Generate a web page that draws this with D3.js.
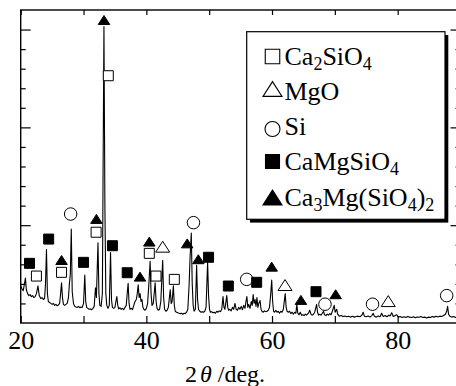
<!DOCTYPE html>
<html>
<head>
<meta charset="utf-8">
<script src="https://cdn.jsdelivr.net/npm/d3@7"></script>
<style>
  html, body { margin: 0; padding: 0; background: #fff; overflow: hidden; }
  svg { display: block; }
  svg text { font-family: "Liberation Serif", "Times New Roman", serif; }
</style>
</head>
<body>
<div id="chart"></div>
<script>
// XRD pattern: [2theta (deg), intensity (counts)]
const pattern = [
  [20.0, 190], [20.2, 175], [20.4, 165], [20.6, 200], [20.75, 230], [20.9, 170], [21.1, 150], [21.3, 140],
  [21.5, 145], [21.7, 135], [21.9, 140], [22.1, 130], [22.3, 135], [22.5, 150], [22.75, 190], [22.95, 140],
  [23.2, 125], [23.4, 130], [23.6, 120], [23.8, 125], [23.95, 200], [24.1, 376], [24.25, 150], [24.4, 110],
  [24.6, 105], [24.8, 100], [25.0, 95], [25.2, 100], [25.4, 90], [25.6, 95], [25.8, 88], [26.0, 92],
  [26.2, 100], [26.35, 150], [26.5, 205], [26.65, 130], [26.8, 95], [27.0, 90], [27.2, 95], [27.4, 100],
  [27.6, 130], [27.75, 200], [27.9, 250], [28.05, 480], [28.2, 160], [28.4, 100], [28.6, 85], [28.8, 82],
  [29.0, 80], [29.2, 85], [29.4, 78], [29.6, 82], [29.8, 80], [30.0, 100], [30.2, 245], [30.35, 110],
  [30.5, 80], [30.7, 75], [30.9, 70], [31.1, 72], [31.3, 68], [31.5, 75], [31.7, 85], [31.9, 180],
  [32.05, 130], [32.3, 410], [32.45, 150], [32.6, 90], [32.8, 85], [33.0, 150], [33.1, 700], [33.25, 1515],
  [33.4, 600], [33.55, 150], [33.7, 90], [33.9, 75], [34.1, 90], [34.3, 360], [34.45, 120], [34.6, 80],
  [34.8, 75], [35.0, 80], [35.15, 110], [35.3, 135], [35.45, 90], [35.6, 72], [35.8, 78], [36.0, 70],
  [36.2, 75], [36.4, 68], [36.6, 80], [36.8, 90], [36.95, 150], [37.1, 203], [37.25, 100], [37.4, 70],
  [37.6, 75], [37.8, 68], [38.0, 90], [38.2, 110], [38.4, 120], [38.55, 150], [38.7, 195], [38.85, 130],
  [39.0, 150], [39.15, 110], [39.3, 120], [39.45, 80], [39.6, 70], [39.8, 65], [40.0, 75], [40.2, 100],
  [40.4, 200], [40.6, 315], [40.75, 150], [40.9, 90], [41.1, 100], [41.4, 205], [41.55, 110], [41.7, 75],
  [41.9, 65], [42.1, 70], [42.3, 110], [42.6, 320], [42.75, 130], [42.9, 70], [43.1, 60], [43.3, 65],
  [43.5, 80], [43.8, 170], [43.95, 100], [44.1, 110], [44.3, 190], [44.45, 90], [44.6, 60], [44.8, 55],
  [45.0, 52], [45.2, 50], [45.4, 48], [45.6, 50], [45.8, 45], [46.0, 50], [46.2, 48], [46.4, 55],
  [46.6, 70], [46.8, 190], [46.95, 330], [47.15, 460], [47.3, 200], [47.45, 90], [47.6, 60], [47.8, 70],
  [48.0, 295], [48.15, 120], [48.3, 70], [48.5, 60], [48.7, 55], [48.9, 58], [49.1, 55], [49.3, 60],
  [49.5, 80], [49.75, 310], [49.9, 140], [50.05, 70], [50.2, 55], [50.4, 58], [50.6, 52], [50.8, 55],
  [51.0, 50], [51.2, 60], [51.4, 55], [51.6, 62], [51.8, 58], [52.0, 70], [52.2, 135], [52.35, 80],
  [52.5, 70], [52.8, 140], [52.95, 80], [53.1, 65], [53.3, 70], [53.5, 62], [53.7, 80], [53.9, 70],
  [54.1, 100], [54.3, 70], [54.5, 65], [54.7, 80], [54.9, 70], [55.1, 85], [55.3, 68], [55.5, 90],
  [55.7, 75], [55.85, 110], [56.0, 135], [56.15, 80], [56.3, 95], [56.5, 75], [56.7, 110], [56.85, 90],
  [57.0, 145], [57.15, 100], [57.3, 120], [57.45, 85], [57.6, 130], [57.75, 80], [57.9, 100], [58.1, 115],
  [58.25, 70], [58.4, 60], [58.6, 55], [58.8, 62], [59.0, 58], [59.2, 60], [59.4, 65], [59.6, 80],
  [59.8, 150], [59.95, 220], [60.1, 110], [60.25, 60], [60.4, 55], [60.6, 65], [60.8, 55], [61.0, 60],
  [61.2, 50], [61.4, 60], [61.6, 55], [61.8, 70], [62.1, 150], [62.25, 80], [62.4, 60], [62.6, 55],
  [62.8, 60], [63.0, 48], [63.2, 55], [63.4, 45], [63.6, 55], [63.8, 50], [63.95, 95], [64.1, 50],
  [64.3, 42], [64.5, 55], [64.7, 40], [64.9, 42], [65.1, 38], [65.3, 45], [65.5, 40], [65.8, 50],
  [66.0, 65], [66.2, 45], [66.4, 40], [66.6, 45], [66.8, 55], [67.1, 95], [67.25, 55], [67.4, 40],
  [67.6, 45], [67.8, 40], [68.0, 50], [68.2, 60], [68.35, 42], [68.6, 38], [68.8, 45], [69.0, 40],
  [69.2, 48], [69.4, 42], [69.6, 60], [69.9, 90], [70.05, 55], [70.3, 70], [70.45, 45], [70.7, 35],
  [71.0, 38], [71.3, 33], [71.6, 36], [71.9, 32], [72.2, 35], [72.5, 30], [72.8, 34], [73.1, 30],
  [73.4, 33], [73.7, 35], [74.0, 32], [74.3, 40], [74.5, 55], [74.7, 35], [75.0, 32], [75.3, 36],
  [75.6, 30], [75.9, 38], [76.1, 50], [76.3, 34], [76.6, 30], [76.9, 36], [77.2, 32], [77.45, 50],
  [77.7, 33], [78.0, 38], [78.3, 32], [78.6, 40], [78.8, 36], [79.05, 52], [79.3, 33], [79.6, 38],
  [79.85, 42], [80.1, 30], [80.4, 33], [80.7, 28], [81.0, 32], [81.3, 28], [81.6, 33], [81.9, 30],
  [82.2, 28], [82.5, 32], [82.8, 27], [83.1, 31], [83.4, 29], [83.7, 33], [84.0, 28], [84.3, 30],
  [84.6, 26], [84.9, 30], [85.2, 28], [85.5, 33], [85.8, 30], [86.1, 34], [86.4, 31], [86.7, 35],
  [87.0, 33], [87.3, 38], [87.6, 45], [87.8, 60], [87.95, 85], [88.1, 45], [88.3, 35], [88.6, 30],
  [88.9, 33], [89.2, 28], [89.5, 32], [89.8, 29], [90.0, 30]
];

// phase markers: [2theta, height the marker sits at]
const ca2sio4Marks = [[22.5, 240], [26.5, 259], [32.0, 464], [33.94, 1264], [40.47, 356], [41.53, 240], [44.45, 223]];
const mgoMarks = [[42.6, 390], [62.07, 194], [78.5, 112]];
const siMarks = [[27.95, 557], [47.5, 513], [55.97, 223], [68.43, 96], [76.0, 96], [87.8, 140]];
const camgsio4Marks = [[21.4, 305], [24.45, 429], [30.0, 310], [34.6, 395], [36.95, 257], [49.9, 336], [53.05, 189], [57.56, 208], [67.0, 160]];
const ca3mgMarks = [[26.5, 322], [32.05, 532], [33.26, 1549], [38.99, 237], [40.47, 416], [46.5, 407], [48.27, 326], [59.95, 288], [64.6, 118], [70.13, 147]];

const phaseNames = ['Ca2SiO4', 'MgO', 'Si', 'CaMgSiO4', 'Ca3Mg(SiO4)2'];

const xTicks = [20, 30, 40, 50, 60, 70, 80, 90];
const xTickLabels = ['20', '', '40', '', '60', '', '80', ''];
const yMinorTicks = [100, 200, 300, 400, 600, 700, 800, 900, 1100, 1200, 1300, 1400];
const yMajorTicks = [500, 1000, 1500];

const W = 456, H = 386;
const SERIF = '"Liberation Serif", "Times New Roman", serif';

const svg = d3.select('#chart').append('svg')
  .attr('width', W)
  .attr('height', H);

const x = d3.scaleLinear().domain([20, 90]).range([20.7, 460.5]);
const y = d3.scaleLinear().domain([0, 1600]).range([323, 10]);

// symbol types, "size" is the width in px
const square = { draw(ctx, s) { const h = s / 2; ctx.rect(-h, -h, s, s); } };
const circle = { draw(ctx, s) { const r = s / 2; ctx.moveTo(r, 0); ctx.arc(0, 0, r, 0, 2 * Math.PI); } };
const triangle = { draw(ctx, s) { const h = s * 0.78; ctx.moveTo(0, -h / 2); ctx.lineTo(s / 2, h / 2); ctx.lineTo(-s / 2, h / 2); ctx.closePath(); } };

const phases = [
  { name: phaseNames[0], marks: ca2sio4Marks, type: square, size: 10, legendSize: 14.5, fill: '#fff' },
  { name: phaseNames[1], marks: mgoMarks, type: triangle, size: 14, legendSize: 19, fill: '#fff' },
  { name: phaseNames[2], marks: siMarks, type: circle, size: 12.5, legendSize: 15, fill: '#fff' },
  { name: phaseNames[3], marks: camgsio4Marks, type: square, size: 10, legendSize: 14, fill: '#000' },
  { name: phaseNames[4], marks: ca3mgMarks, type: triangle, size: 11.5, legendSize: 19, fill: '#000' }
];

// axes (ticks point inward, no y labels)
const axisG = svg.append('g').attr('class', 'axes');

const bottom = axisG.append('g')
  .attr('transform', 'translate(0,' + y(0) + ')')
  .call(d3.axisBottom(x).tickValues(xTicks).tickSizeInner(-7).tickSizeOuter(0).tickPadding(7.5)
    .tickFormat((d, i) => xTickLabels[i]));
bottom.selectAll('text')
  .style('font-family', SERIF)
  .style('font-size', '26px')
  .attr('fill', '#000');

axisG.append('g')
  .attr('transform', 'translate(0,' + y(1600) + ')')
  .call(d3.axisTop(x).tickValues(xTicks).tickSizeInner(-5).tickSizeOuter(0).tickFormat(''));

axisG.append('g')
  .attr('transform', 'translate(' + x(20) + ',0)')
  .call(d3.axisLeft(y).tickValues(yMinorTicks).tickSizeInner(-5).tickSizeOuter(0).tickFormat(''));
axisG.append('g')
  .attr('transform', 'translate(' + x(20) + ',0)')
  .call(d3.axisLeft(y).tickValues(yMajorTicks).tickSizeInner(-10).tickSizeOuter(0).tickFormat(''));
axisG.append('g')
  .attr('transform', 'translate(' + x(90) + ',0)')
  .call(d3.axisRight(y).tickValues(yMinorTicks).tickSizeInner(-5).tickSizeOuter(0).tickFormat(''));
axisG.append('g')
  .attr('transform', 'translate(' + x(90) + ',0)')
  .call(d3.axisRight(y).tickValues(yMajorTicks).tickSizeInner(-10).tickSizeOuter(0).tickFormat(''));

axisG.selectAll('.domain').remove();
axisG.selectAll('.tick line').attr('stroke', '#000').attr('stroke-width', 1.2);

// frame
svg.append('rect')
  .attr('x', x(20)).attr('y', y(1600))
  .attr('width', x(90) - x(20)).attr('height', y(0) - y(1600))
  .attr('fill', 'none').attr('stroke', '#000').attr('stroke-width', 1.4);

// pattern
const line = d3.line().x(d => x(d[0])).y(d => y(d[1]));
svg.append('path')
  .datum(pattern)
  .attr('d', line)
  .attr('fill', 'none')
  .attr('stroke', '#000')
  .attr('stroke-width', 1.1)
  .attr('stroke-linejoin', 'round');

// phase markers
phases.forEach(p => {
  svg.append('g').selectAll('path').data(p.marks)
    .enter().append('path')
    .attr('d', d3.symbol().type(p.type).size(p.size))
    .attr('transform', d => 'translate(' + x(d[0]) + ',' + y(d[1]) + ')')
    .attr('fill', p.fill)
    .attr('stroke', '#000')
    .attr('stroke-width', 1);
});

// legend box with drop shadow
const lg = { x: 246.7, y: 31.7, w: 198.3, h: 187.6 };
svg.append('rect')
  .attr('x', lg.x + 3.3).attr('y', lg.y + 3.3)
  .attr('width', lg.w).attr('height', lg.h)
  .attr('fill', '#000');
svg.append('rect')
  .attr('x', lg.x).attr('y', lg.y)
  .attr('width', lg.w).attr('height', lg.h)
  .attr('fill', '#fff').attr('stroke', '#000').attr('stroke-width', 1.2);

const rowBase = [65, 100, 135, 170, 206];
const symCy = [56.5, 89, 129, 161.5, 197.5];
phases.forEach((p, i) => {
  svg.append('path')
    .attr('d', d3.symbol().type(p.type).size(p.legendSize)())
    .attr('transform', 'translate(272.5,' + symCy[i] + ')')
    .attr('fill', p.fill)
    .attr('stroke', '#000')
    .attr('stroke-width', 1.1);

  const t = svg.append('text')
    .attr('x', 284.5)
    .attr('y', rowBase[i])
    .style('font-size', '26px')
    .attr('fill', '#000');
  // digits in a formula are subscripts
  const parts = p.name.split(/(\d+)/).filter(s => s.length);
  let shifted = false;
  parts.forEach(s => {
    if (/^\d+$/.test(s)) {
      t.append('tspan').style('font-size', '18px').attr('dy', 5).text(s);
      shifted = true;
    } else {
      t.append('tspan').attr('dy', shifted ? -5 : 0).text(s);
      shifted = false;
    }
  });
});

// x axis title
const title = svg.append('text')
  .attr('x', 185)
  .attr('y', 381.5)
  .style('font-size', '24px')
  .attr('fill', '#000');
title.append('tspan').text('2');
title.append('tspan').attr('font-style', 'italic').attr('dx', 3).text('θ');
title.append('tspan').attr('dx', 6).text('/deg.');
</script>
</body>
</html>
